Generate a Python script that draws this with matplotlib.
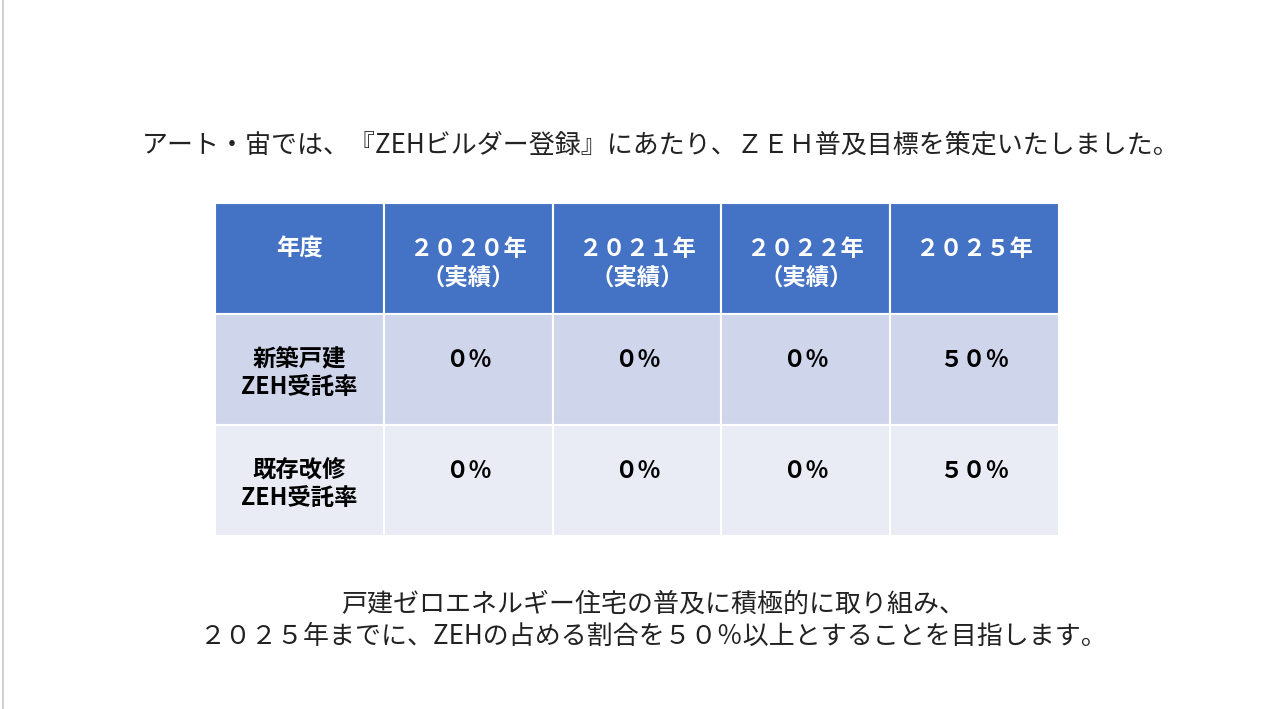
import matplotlib.pyplot as plt
from matplotlib.patches import Rectangle

plt.rcParams['font.family'] = ['Noto Sans CJK JP', 'DejaVu Sans']

title = "アート・宙では、『ZEHビルダー登録』にあたり、ＺＥＨ普及目標を策定いたしました。"
header = ["年度", "２０２０年\n（実績）", "２０２１年\n（実績）", "２０２２年\n（実績）", "２０２５年"]
row_labels = ["新築戸建\nZEH受託率", "既存改修\nZEH受託率"]
values = [["０％", "０％", "０％", "５０％"],
          ["０％", "０％", "０％", "５０％"]]
footer = ["戸建ゼロエネルギー住宅の普及に積極的に取り組み、",
          "２０２５年までに、ZEHの占める割合を５０％以上とすることを目指します。"]

W, H = 1271, 709
fig = plt.figure(figsize=(W / 100, H / 100), dpi=100)
ax = fig.add_axes([0, 0, 1, 1])
ax.set_xlim(0, W)
ax.set_ylim(H, 0)
ax.axis('off')

# slide edge on the left
ax.plot([3, 3], [0, H], color='#d0d0d0', lw=1.5)

ax.text(661, 145, title, ha='center', va='center', fontsize=18.7, color='#222222')

x0, cw = 215, 168.8
row_tops = [203, 314, 425]
row_h = 111
fills = ['#4472C4', '#CFD5EA', '#E9EBF5']

rows = [header] + [[lab] + vals for lab, vals in zip(row_labels, values)]
for r, row in enumerate(rows):
    y = row_tops[r]
    for c, txt in enumerate(row):
        x = x0 + c * cw
        ax.add_patch(Rectangle((x, y), cw, row_h, facecolor=fills[r],
                               edgecolor='white', lw=1.5))
        col = 'white' if r == 0 else 'black'
        if r == 0:
            ty = y + 60 if '\n' in txt else y + 46
        elif c == 0:
            ty = y + 59
        else:
            ty = y + 46
        ax.text(x + cw / 2, ty, txt, ha='center', va='center', fontsize=16.8,
                fontweight='bold', color=col, linespacing=1.25)

for i, line in enumerate(footer):
    ax.text(653, 604 + i * 32, line, ha='center', va='center', fontsize=18.7,
            color='#222222')

fig.savefig('out.png', dpi=100)
